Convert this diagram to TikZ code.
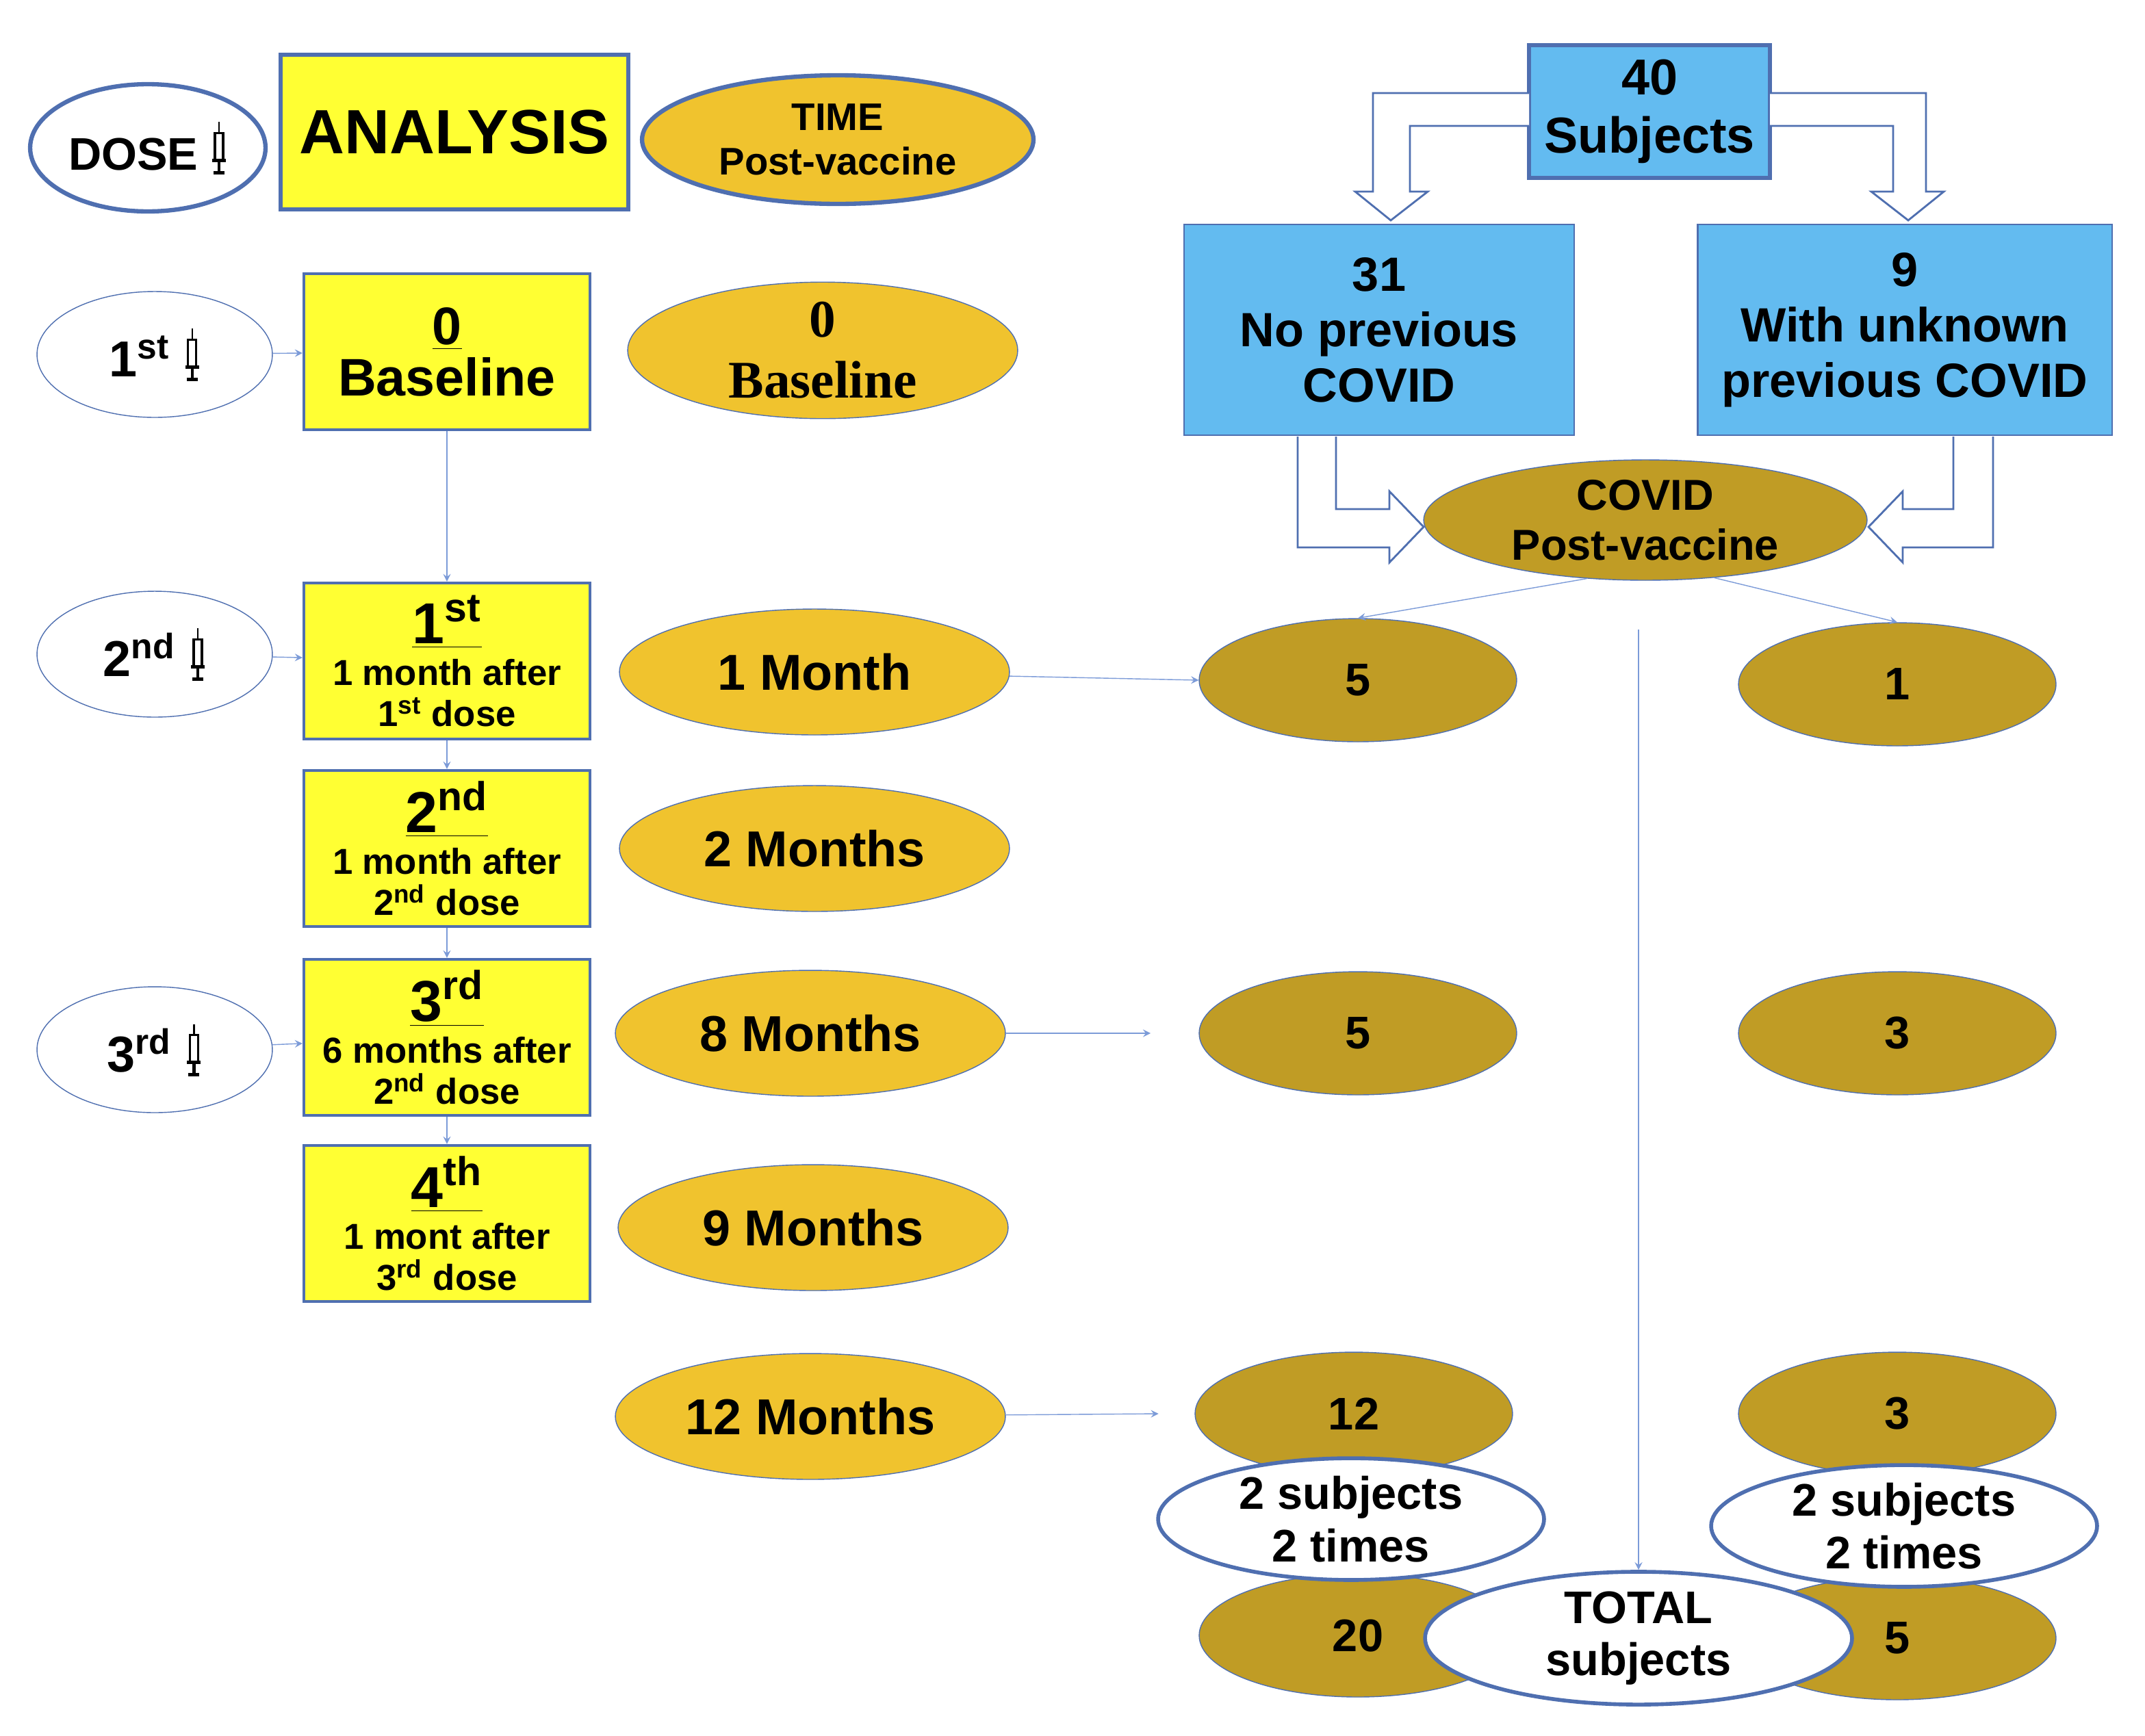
\documentclass[tikz,border=0pt]{standalone}
\usepackage{fontspec}
\setmainfont{Liberation Sans}
\newfontfamily\timesf{Liberation Serif}
\usetikzlibrary{shapes.geometric,positioning,calc}
\definecolor{edge}{HTML}{4F6FB0}
\definecolor{lnk}{HTML}{7C9BD8}
\definecolor{yel}{HTML}{FFFF33}
\definecolor{gold}{HTML}{F0C32E}
\definecolor{dgold}{HTML}{C09C25}
\definecolor{sky}{HTML}{63BBF0}
\newcommand{\syr}{\begin{tikzpicture}[x=1cm,y=1cm,baseline=0.08cm]
\draw[line width=0.6pt] (0,0.78) -- (0,0.62);
\draw[line width=1pt,fill=white] (-0.06,0.22) rectangle (0.06,0.62);
\draw[line width=1.2pt] (-0.1,0.22) -- (0.1,0.22) (0,0.22) -- (0,0.05) (-0.08,0.04) -- (0.08,0.04);
\end{tikzpicture}}
\newcommand{\fs}[1]{\fontsize{#1}{1.15\dimexpr#1pt\relax}\selectfont}
\tikzset{
  every node/.style={font=\bfseries, align=center},
  dose/.style={ellipse, draw=edge, fill=white, inner sep=0, minimum width=3.44cm, minimum height=1.84cm, font=\bfseries\fs{19}},
  anl/.style={rectangle, draw=edge, fill=yel, line width=1.2pt, inner sep=0, minimum width=4.18cm, minimum height=2.28cm, font=\bfseries\fs{15}, text depth=0pt},
  tim/.style={ellipse, draw=edge, fill=gold, inner sep=0, minimum width=5.7cm, minimum height=1.84cm, font=\bfseries\fs{21}},
  res/.style={ellipse, draw=edge, fill=dgold, inner sep=0, minimum width=4.64cm, minimum height=1.8cm, font=\bfseries\fs{19}},
  wht/.style={ellipse, draw=edge, fill=white, line width=1.6pt, inner sep=0, minimum width=5.64cm, minimum height=1.74cm, font=\bfseries\fs{19}},
  grp/.style={rectangle, draw=edge, fill=sky, line width=0.8pt, inner sep=0, minimum height=3.08cm, font=\bfseries\fs{20}},
  hollow/.style={draw=edge, fill=white, line width=0.8pt},
}
\begin{document}
\begin{tikzpicture}[x=0.02cm, y=-0.02cm, >=stealth]
\useasboundingbox (0,0) rectangle (1567,1268);

% header row
\node [dose, line width=1.8pt, minimum height=1.86cm] (dose) at (108,108) {DOSE \syr};
\node [anl, line width=1.8pt, minimum width=5.08cm, minimum height=2.26cm, font=\bfseries\fs{26}] (analysis) at (332,96.5) {ANALYSIS};
\node [tim, line width=1.8pt, minimum width=5.72cm, minimum height=1.88cm, font=\bfseries\fs{16}] (time) at (612,102) {TIME\\Post-vaccine};

% doses
\node [dose, font=\bfseries\fs{21}] (dose-1) at (113,259) {1\textsuperscript{st} \syr};
\node [dose, font=\bfseries\fs{21}] (dose-2) at (113,478) {2\textsuperscript{nd} \syr};
\node [dose, font=\bfseries\fs{21}] (dose-3) at (113,767) {3\textsuperscript{rd} \syr};

% analysis boxes
\node [anl] (box-0) at (326.5,257) {{\fs{22}\underline{0}}\\[2pt]{\fs{22}Baseline}};
\node [anl] (box-1) at (326.5,483) {{\fs{24}\underline{1\textsuperscript{st}}}\\1 month after\\1\textsuperscript{st} dose};
\node [anl] (box-2) at (326.5,620) {{\fs{24}\underline{2\textsuperscript{nd}}}\\1 month after\\2\textsuperscript{nd} dose};
\node [anl] (box-3) at (326.5,758) {{\fs{24}\underline{3\textsuperscript{rd}}}\\6 months after\\2\textsuperscript{nd} dose};
\node [anl] (box-4) at (326.5,894) {{\fs{24}\underline{4\textsuperscript{th}}}\\1 mont after\\3\textsuperscript{rd} dose};

% time points
\node [tim, font=\bfseries\timesf\fs{22}] (t-0) at (601,256) {0\\Baseline};
\node [tim] (t-1) at (595,491) {1 Month};
\node [tim] (t-2) at (595,620) {2 Months};
\node [tim] (t-8) at (592,755) {8 Months};
\node [tim] (t-9) at (594,897) {9 Months};
\node [tim] (t-12) at (592,1035) {12 Months};

\foreach \i/\j in {1/0,2/1,3/3}
  \draw [->, draw=lnk] (dose-\i) -- (box-\j);
\foreach \i/\j in {0/1,1/2,2/3,3/4}
  \draw [->, draw=lnk] (box-\i) -- (box-\j);

% groups
\node [grp, line width=1.8pt, minimum width=3.52cm, minimum height=1.94cm, font=\bfseries\fs{21}] (all) at (1205,81.5) {40\\Subjects};
\node [grp, minimum width=5.7cm] (no-covid) at (1007.5,241) {31\\No previous\\COVID};
\node [grp, minimum width=6.06cm] (unk-covid) at (1391.5,241) {9\\With unknown\\previous COVID};

\draw [hollow] (1117,68) -- (1003,68) -- (1003,140) -- (990,140) -- (1016,161) -- (1043,140) -- (1030,140) -- (1030,92) -- (1117,92);
\draw [hollow] (1293,68) -- (1407,68) -- (1407,140) -- (1420,140) -- (1394,161) -- (1367,140) -- (1383,140) -- (1383,92) -- (1293,92);

\node [res, minimum width=6.48cm, minimum height=1.76cm, font=\bfseries\fs{18}] (covid) at (1202,380) {COVID\\Post-vaccine};

\draw [hollow] (948,319) -- (948,400) -- (1015,400) -- (1015,411) -- (1040,385) -- (1015,359) -- (1015,372) -- (976,372) -- (976,319);
\draw [hollow] (1456,319) -- (1456,400) -- (1390,400) -- (1390,411) -- (1365,385) -- (1390,359) -- (1390,372) -- (1427,372) -- (1427,319);

% results
\node [res] (no-1) at (992,497) {5};
\node [res] (unk-1) at (1386,500) {1};
\node [res] (no-8) at (992,755) {5};
\node [res] (unk-8) at (1386,755) {3};
\node [res] (no-12) at (989,1033) {12};
\node [res] (unk-12) at (1386,1033) {3};
\node [res] (no-tot) at (992,1195) {20};
\node [res] (unk-tot) at (1386,1197) {5};
\node [wht] (no-twice) at (987,1110) {2 subjects\\2 times};
\node [wht] (unk-twice) at (1391,1115) {2 subjects\\2 times};
\node [wht, minimum width=6.24cm, minimum height=1.8cm] (total) at (1197,1197) {TOTAL\\subjects};

\draw [->, draw=lnk] (covid.225) -- (no-1.north);
\draw [->, draw=lnk] (covid.320) -- (unk-1.north);
\coordinate (covid-foot) at (1197,460);
\draw [->, draw=lnk] (covid-foot) -- (total);
\draw [->, draw=lnk] (t-1) -- (no-1.west);
\draw [->, draw=lnk] (t-8) -- ([xshift=-20pt]no-8.west);
\draw [->, draw=lnk] (t-12) -- ([xshift=-15pt]no-12.west);

\end{tikzpicture}
\end{document}
